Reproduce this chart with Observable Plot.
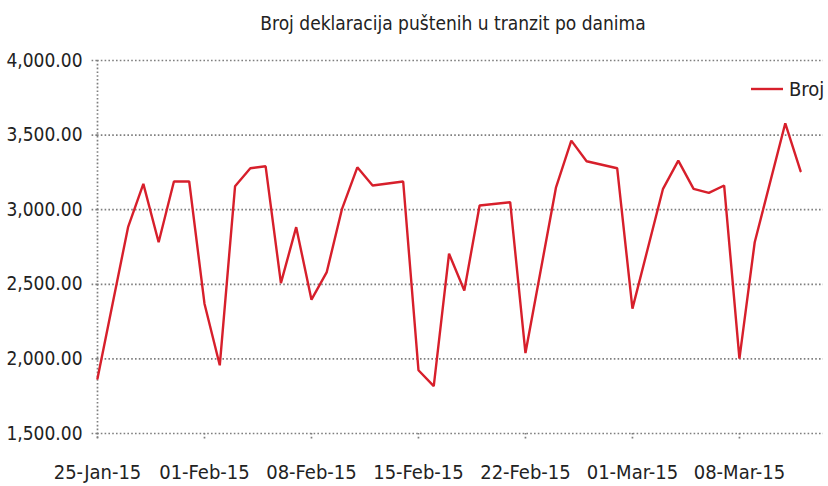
<!DOCTYPE html>
<html>
<head>
<meta charset="utf-8">
<script src="https://cdn.jsdelivr.net/npm/d3@7"></script>
<script src="https://cdn.jsdelivr.net/npm/@observablehq/plot@0.6"></script>
<style>
  html, body { margin: 0; padding: 0; background: #fff; }
  #wrap { position: relative; width: 828px; height: 486px; font-family: "DejaVu Sans Condensed", "DejaVu Sans", sans-serif; font-stretch: condensed; color: #222; }
  #title { position: absolute; left: 78px; width: 750px; top: 12px; text-align: center; font-size: 19px; white-space: nowrap; }
  #legend { position: absolute; left: 750px; top: 77px; display: flex; align-items: center; font-size: 20px; }
  #legend svg { margin-right: 6px; }
  #chart { position: absolute; left: 0; top: 0; }
</style>
</head>
<body>
<div id="wrap">
  <div id="chart"></div>
  <div id="title">Broj deklaracija puštenih u tranzit po danima</div>
  <div id="legend"><svg width="33" height="6"><line x1="1" x2="33" y1="3" y2="3" stroke="#d71f2b" stroke-width="2.4"/></svg><span>Broj</span></div>
</div>
<script>
const seriesName = "Broj";
const dates = [
  "2015-01-25","2015-01-27","2015-01-28","2015-01-29","2015-01-30","2015-01-31",
  "2015-02-01","2015-02-02","2015-02-03","2015-02-04","2015-02-05","2015-02-06","2015-02-07",
  "2015-02-08","2015-02-09","2015-02-10","2015-02-11","2015-02-12","2015-02-14",
  "2015-02-15","2015-02-16","2015-02-17","2015-02-18","2015-02-19","2015-02-21",
  "2015-02-22","2015-02-24","2015-02-25","2015-02-26","2015-02-28",
  "2015-03-01","2015-03-03","2015-03-04","2015-03-05","2015-03-06","2015-03-07",
  "2015-03-08","2015-03-09","2015-03-11","2015-03-12"
];
const values = [
  1868, 2883, 3173, 2782, 3189, 3189,
  2370, 1957, 3157, 3278, 3291, 2508, 2883,
  2397, 2582, 3006, 3284, 3162, 3189,
  1924, 1817, 2705, 2459, 3028, 3050,
  2039, 3150, 3463, 3325, 3278,
  2337, 3140, 3329, 3140, 3113, 3162,
  2002, 2782, 3579, 3258
];
const yTicks = [1500, 2000, 2500, 3000, 3500, 4000];
const xTickDates = ["2015-01-25","2015-02-01","2015-02-08","2015-02-15","2015-02-22","2015-03-01","2015-03-08"];
const xDomain = ["2015-01-25T00:00Z", "2015-03-13T12:00Z"];
const yDomain = [1500, 4000];

const data = dates.map((d, i) => ({date: new Date(d + "T00:00Z"), value: values[i]}));
const xTicks = xTickDates.map(d => new Date(d + "T00:00Z"));
const fmtDate = d3.utcFormat("%d-%b-%y");
const fmtNum = d3.format(",.2f");
const gridColor = "#7f7f7f";
const dash = "1.6,2.2";

const chart = Plot.plot({
  width: 828,
  height: 486,
  marginLeft: 97,
  marginRight: 5,
  marginTop: 60,
  marginBottom: 53,
  style: {fontFamily: '"DejaVu Sans Condensed", "DejaVu Sans", sans-serif', fontSize: "19px", color: "#222", background: "transparent", fontStretch: "condensed"},
  x: {type: "utc", domain: xDomain.map(d => new Date(d))},
  y: {domain: yDomain},
  marks: [
    Plot.gridY(yTicks, {stroke: gridColor, strokeOpacity: 1, strokeWidth: 1.7, strokeDasharray: dash}),
    Plot.ruleX([new Date(xDomain[0])], {stroke: gridColor, strokeWidth: 1.7, strokeDasharray: dash, insetBottom: -7}),
    Plot.axisY(yTicks, {tickFormat: fmtNum, tickSize: 7, tickPadding: 8, stroke: gridColor, strokeDasharray: dash, strokeWidth: 1.7, label: null, fontSize: 19}),
    Plot.axisX(xTicks, {tickFormat: fmtDate, tickSize: 6, tickPadding: 25, stroke: gridColor, strokeDasharray: dash, strokeWidth: 1.7, label: null, fontSize: 20}),
    Plot.lineY(data, {x: "date", y: "value", stroke: "#d71f2b", strokeWidth: 2.4, strokeLinejoin: "miter"})
  ]
});
document.getElementById("chart").appendChild(chart);
</script>
</body>
</html>
